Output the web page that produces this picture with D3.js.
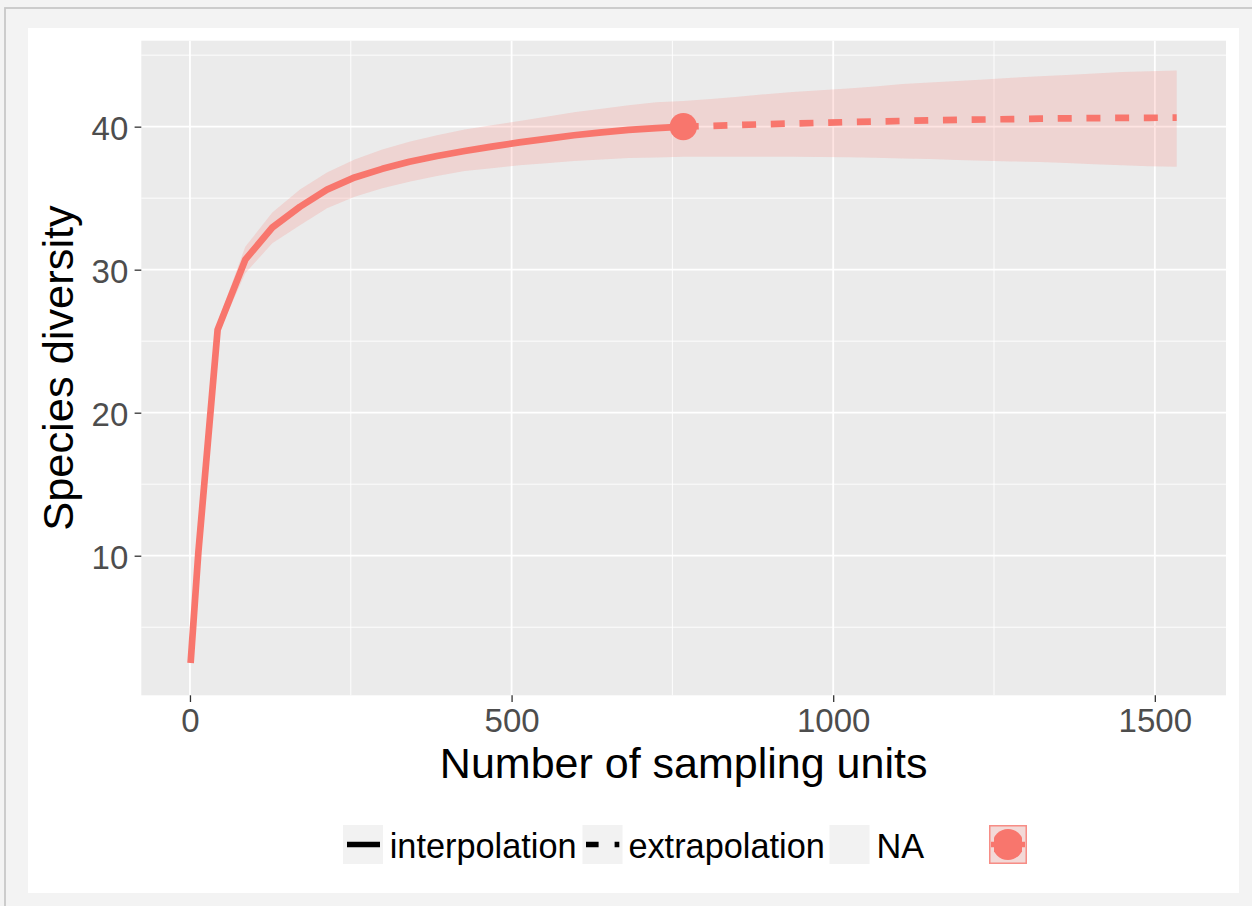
<!DOCTYPE html>
<html>
<head>
<meta charset="utf-8">
<script src="https://cdn.jsdelivr.net/npm/d3@7"></script>
<style>
  html, body { margin: 0; padding: 0; background: #f3f3f3; }
  svg { display: block; font-family: "Liberation Sans", Arial, sans-serif; }
</style>
</head>
<body>
<svg id="chart" width="1252" height="906"></svg>
<script>
// Sample-size-based rarefaction (interpolation) up to the observed 767 sampling units
const interpT  = [1, 13, 43, 86, 128, 171, 213, 256, 299, 341, 384, 427, 469, 512, 554, 597, 640, 682, 725, 767];
const interpS  = [2.5, 10.2, 25.8, 30.7, 32.95, 34.4, 35.6, 36.45, 37.05, 37.55, 37.95, 38.3, 38.6, 38.9, 39.15, 39.4, 39.6, 39.78, 39.9, 40.0];
const interpLo = [2.32, 9.9, 25.4, 29.75, 31.85, 33.1, 34.3, 35.1, 35.7, 36.15, 36.55, 36.9, 37.1, 37.3, 37.45, 37.6, 37.7, 37.8, 37.85, 37.9];
const interpHi = [2.7, 10.5, 26.3, 31.6, 34.0, 35.6, 36.8, 37.7, 38.4, 38.95, 39.4, 39.8, 40.1, 40.4, 40.7, 41.0, 41.25, 41.5, 41.7, 41.8];

// Extrapolation up to twice the reference sample size
const extrapT  = [767, 810, 852, 895, 937, 980, 1023, 1065, 1108, 1150, 1193, 1235, 1278, 1321, 1363, 1406, 1449, 1491, 1534];
const extrapS  = [40.0, 40.05, 40.11, 40.17, 40.22, 40.27, 40.32, 40.36, 40.40, 40.44, 40.47, 40.50, 40.53, 40.56, 40.58, 40.60, 40.61, 40.62, 40.63];
const extrapLo = [37.9, 37.9, 37.9, 37.9, 37.89, 37.88, 37.86, 37.82, 37.78, 37.74, 37.67, 37.62, 37.57, 37.53, 37.46, 37.38, 37.3, 37.24, 37.2];
const extrapHi = [41.8, 41.93, 42.1, 42.27, 42.42, 42.55, 42.66, 42.8, 42.98, 43.08, 43.2, 43.3, 43.42, 43.52, 43.62, 43.72, 43.82, 43.88, 43.93];

// Reference sample (observed)
const refT = [767];
const refS = [40.0];

const xTicks = [0, 500, 1000, 1500];
const xMinor = [250, 750, 1250];
const yTicks = [10, 20, 30, 40];
const yMinor = [5, 15, 25, 35, 45];
const legendLabels = ["interpolation", "extrapolation", "NA"];
const xTitle = "Number of sampling units";
const yTitle = "Species diversity";
const seriesColor = "#F8766D";

const svg = d3.select("#chart");

// page frame: grey canvas with a thin border, white plot sheet on top
svg.append("rect").attr("x", 5).attr("y", 8).attr("width", 1300).attr("height", 1000)
  .attr("fill", "#f3f3f3").attr("stroke", "#c8c8c8").attr("stroke-width", 1.8);
svg.append("rect").attr("x", 28).attr("y", 28).attr("width", 1211).attr("height", 865).attr("fill", "#ffffff");

const panel = { left: 141.3, top: 40.7, right: 1226, bottom: 695.3 };

// records for the ribbon (one continuous band) and the two line pieces
const interp = interpT.map((t, i) => ({ t, s: interpS[i], lo: interpLo[i], hi: interpHi[i] }));
const extrap = extrapT.map((t, i) => ({ t, s: extrapS[i], lo: extrapLo[i], hi: extrapHi[i] }));
const band = interp.concat(extrap.slice(1));

// continuous scales with 5% padding on each side
function padded(lo, hi) { const r = hi - lo; return [lo - 0.05 * r, hi + 0.05 * r]; }
const tExt = d3.extent(band, d => d.t);
const yLo = d3.min(band, d => Math.min(d.lo, d.s));
const yHi = d3.max(band, d => Math.max(d.hi, d.s));
const x = d3.scaleLinear().domain(padded(tExt[0], tExt[1])).range([panel.left, panel.right]);
const y = d3.scaleLinear().domain(padded(yLo, yHi)).range([panel.bottom, panel.top]);

// panel background
svg.append("rect")
  .attr("x", panel.left).attr("y", panel.top)
  .attr("width", panel.right - panel.left).attr("height", panel.bottom - panel.top)
  .attr("fill", "#ebebeb");

const grid = svg.append("g");
grid.selectAll(".ymin").data(yMinor).join("line")
  .attr("x1", panel.left).attr("x2", panel.right)
  .attr("y1", d => y(d)).attr("y2", d => y(d))
  .attr("stroke", "#ffffff").attr("stroke-width", 0.9);
grid.selectAll(".xmin").data(xMinor).join("line")
  .attr("y1", panel.top).attr("y2", panel.bottom)
  .attr("x1", d => x(d)).attr("x2", d => x(d))
  .attr("stroke", "#ffffff").attr("stroke-width", 0.9);
grid.selectAll(".ymaj").data(yTicks).join("line")
  .attr("x1", panel.left).attr("x2", panel.right)
  .attr("y1", d => y(d)).attr("y2", d => y(d))
  .attr("stroke", "#ffffff").attr("stroke-width", 1.8);
grid.selectAll(".xmaj").data(xTicks).join("line")
  .attr("y1", panel.top).attr("y2", panel.bottom)
  .attr("x1", d => x(d)).attr("x2", d => x(d))
  .attr("stroke", "#ffffff").attr("stroke-width", 1.8);

// confidence band
const area = d3.area().x(d => x(d.t)).y0(d => y(d.lo)).y1(d => y(d.hi));
svg.append("path").datum(band)
  .attr("d", area)
  .attr("fill", seriesColor).attr("fill-opacity", 0.2);

// estimated curve: solid for interpolation, dashed for extrapolation
const line = d3.line().x(d => x(d.t)).y(d => y(d.s));
svg.append("path").datum(interp)
  .attr("d", line).attr("fill", "none")
  .attr("stroke", seriesColor).attr("stroke-width", 6.7)
  .attr("stroke-linejoin", "round").attr("stroke-linecap", "butt");
svg.append("path").datum(extrap)
  .attr("d", line).attr("fill", "none")
  .attr("stroke", seriesColor).attr("stroke-width", 6.7)
  .attr("stroke-dasharray", "14,14.7").attr("stroke-dashoffset", -1.4)
  .attr("stroke-linejoin", "round").attr("stroke-linecap", "butt");

// observed reference point
svg.selectAll(".ref").data(refT.map((t, i) => ({ t, s: refS[i] }))).join("circle")
  .attr("cx", d => x(d.t)).attr("cy", d => y(d.s)).attr("r", 13.7)
  .attr("fill", seriesColor);

// axes
const xAxis = d3.axisBottom(x).tickValues(xTicks).tickFormat(d3.format("d"))
  .tickSize(6.7).tickPadding(6.2);
const gx = svg.append("g").attr("transform", `translate(0,${panel.bottom})`).call(xAxis);
const yAxis = d3.axisLeft(y).tickValues(yTicks).tickFormat(d3.format("d"))
  .tickSize(6.7).tickPadding(6.3);
const gy = svg.append("g").attr("transform", `translate(${panel.left},0)`).call(yAxis);
[gx, gy].forEach(g => {
  g.select(".domain").remove();
  g.selectAll(".tick line").attr("stroke", "#333333").attr("stroke-width", 1.3);
  g.selectAll(".tick text").attr("fill", "#4d4d4d")
    .style("font-family", "'Liberation Sans', Arial, sans-serif").style("font-size", "33px");
});
gy.selectAll(".tick text").attr("dy", "0.4em");

// axis titles
svg.append("text")
  .attr("x", (panel.left + panel.right) / 2).attr("y", 778)
  .attr("text-anchor", "middle").attr("fill", "#000")
  .style("font-size", "43px").text(xTitle);
svg.append("text")
  .attr("transform", `translate(73,${(panel.top + panel.bottom) / 2}) rotate(-90)`)
  .attr("text-anchor", "middle").attr("fill", "#000")
  .style("font-size", "43.4px").text(yTitle);

// legend
const legend = svg.append("g");
const keyY = 825, keyH = 39, keyW = 40, keyMid = keyY + keyH / 2;
const keyX = [343, 582.5, 829.5];
const textX = [389.7, 628.4, 876.4];
keyX.forEach((kx, i) => {
  legend.append("rect").attr("x", kx).attr("y", keyY).attr("width", keyW).attr("height", keyH)
    .attr("fill", "#f2f2f2");
});
legend.append("line")
  .attr("x1", keyX[0] + 4).attr("x2", keyX[0] + keyW - 3).attr("y1", keyMid).attr("y2", keyMid)
  .attr("stroke", "#000").attr("stroke-width", 5.7);
legend.append("line")
  .attr("x1", keyX[1] + 3.5).attr("x2", keyX[1] + keyW - 3.2).attr("y1", keyMid).attr("y2", keyMid)
  .attr("stroke", "#000").attr("stroke-width", 5.7).attr("stroke-dasharray", "12.6,16");
legend.selectAll(".lab").data(legendLabels).join("text")
  .attr("x", (d, i) => textX[i]).attr("y", 857.5)
  .attr("fill", "#000").style("font-size", "34.3px").text(d => d);

// colour key: band swatch with the curve and reference point
const k4 = { x: 989, y: keyY, w: 38, h: keyH };
svg.append("defs").append("clipPath").attr("id", "k4clip")
  .append("rect").attr("x", k4.x + 5).attr("y", k4.y).attr("width", k4.w - 10).attr("height", k4.h);
legend.append("rect").attr("x", k4.x).attr("y", k4.y).attr("width", k4.w).attr("height", k4.h)
  .attr("fill", "#f2f2f2");
legend.append("rect").attr("x", k4.x + 0.75).attr("y", k4.y + 0.75).attr("width", k4.w - 1.5).attr("height", k4.h - 1.5)
  .attr("fill", seriesColor).attr("fill-opacity", 0.2)
  .attr("stroke", seriesColor).attr("stroke-opacity", 0.8).attr("stroke-width", 1.5);
legend.append("line")
  .attr("x1", k4.x + 2).attr("x2", k4.x + k4.w - 2).attr("y1", keyMid).attr("y2", keyMid)
  .attr("stroke", seriesColor).attr("stroke-width", 5.7);
legend.append("circle").attr("cx", k4.x + k4.w / 2).attr("cy", keyMid).attr("r", 15.5)
  .attr("fill", seriesColor).attr("clip-path", "url(#k4clip)");
</script>
</body>
</html>
